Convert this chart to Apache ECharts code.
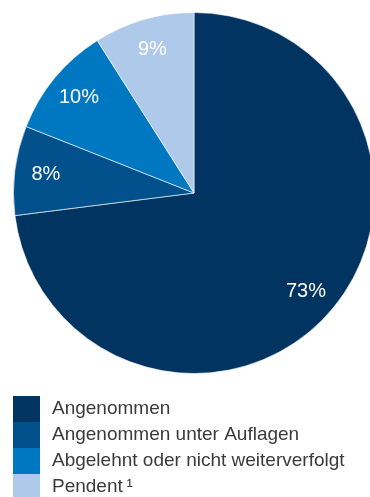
<!DOCTYPE html>
<html>
<head>
<meta charset="utf-8">
<script src="https://cdn.jsdelivr.net/npm/echarts@6/dist/echarts.min.js"></script>
<style>
  html, body { margin: 0; padding: 0; background: #fff; }
  #chart { width: 370px; height: 497px; }
</style>
</head>
<body>
<div id="chart"></div>
<script>
  // Kategorien und Anteile (%)
  const categories = ['Angenommen', 'Angenommen unter Auflagen', 'Abgelehnt oder nicht weiterverfolgt', 'Pendent'];
  const legendLabels = ['Angenommen', 'Angenommen unter Auflagen', 'Abgelehnt oder nicht weiterverfolgt', 'Pendent\u2009\u00B9'];
  const shares = [73, 8, 10, 9];
  const colors = ['#023462', '#02508c', '#0077c1', '#aec9e9'];

  const pieData = categories.map((name, i) => ({
    name: name,
    value: shares[i],
    itemStyle: { color: colors[i] }
  }));

  const chart = echarts.init(document.getElementById('chart'));
  chart.setOption({
    animation: false,
    legend: {
      orient: 'vertical',
      left: 13,
      top: 396,
      height: 140,
      padding: 0,
      itemGap: 0,
      itemWidth: 27,
      itemHeight: 26,
      icon: 'rect',
      selectedMode: false,
      itemStyle: { borderWidth: 0 },
      data: categories,
      formatter: function (name) {
        return legendLabels[categories.indexOf(name)];
      },
      textStyle: {
        fontFamily: 'Liberation Sans, Arial, sans-serif',
        fontSize: 19,
        lineHeight: 26,
        color: '#3a3a3a',
        padding: [0, 0, 0, 7]
      }
    },
    series: [
      {
        // eigentliche Kreisfläche
        type: 'pie',
        center: [194, 193],
        radius: [0, 180.5],
        startAngle: 90,
        clockwise: true,
        silent: true,
        label: { show: false },
        labelLine: { show: false },
        itemStyle: { borderColor: '#ffffff', borderWidth: 0.6 },
        data: pieData
      },
      {
        // unsichtbarer Ring nur für die Prozent-Beschriftung
        type: 'pie',
        center: [194, 193],
        radius: [112, 180.5],
        startAngle: 90,
        clockwise: true,
        silent: true,
        itemStyle: { color: 'rgba(0,0,0,0)' },
        labelLine: { show: false },
        label: {
          show: true,
          position: 'inside',
          formatter: '{c}%',
          color: '#ffffff',
          fontFamily: 'Liberation Sans, Arial, sans-serif',
          fontSize: 20
        },
        data: categories.map((name, i) => ({ name: name, value: shares[i] }))
      }
    ]
  });
</script>
</body>
</html>
